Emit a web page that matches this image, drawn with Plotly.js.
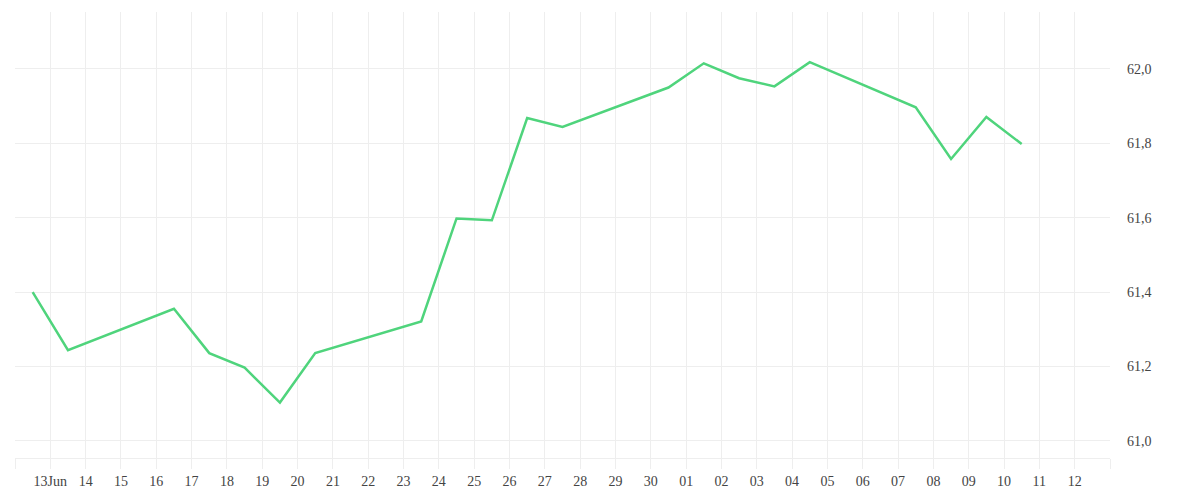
<!DOCTYPE html>
<html>
<head>
<meta charset="utf-8">
<script src="https://cdn.plot.ly/plotly-3.0.1.min.js"></script>
<style>
  html, body { margin: 0; padding: 0; background: #ffffff; }
  #chart { width: 1200px; height: 500px; }
</style>
</head>
<body>
<div id="chart"></div>
<script>
// Data
const dates = [
  '2025-06-12 12:00', '2025-06-13 12:00', '2025-06-16 12:00', '2025-06-17 12:00',
  '2025-06-18 12:00', '2025-06-19 12:00', '2025-06-20 12:00', '2025-06-23 12:00',
  '2025-06-24 12:00', '2025-06-25 12:00', '2025-06-26 12:00', '2025-06-27 12:00',
  '2025-06-30 12:00', '2025-07-01 12:00', '2025-07-02 12:00', '2025-07-03 12:00',
  '2025-07-04 12:00', '2025-07-07 12:00', '2025-07-08 12:00', '2025-07-09 12:00',
  '2025-07-10 12:00'
];
const values = [
  61.400, 61.244, 61.355, 61.236,
  61.197, 61.103, 61.236, 61.321,
  61.598, 61.593, 61.868, 61.844,
  61.950, 62.015, 61.975, 61.953,
  62.018, 61.897, 61.758, 61.871,
  61.798
];
const tickDates = [
  '2025-06-12', '2025-06-13', '2025-06-14', '2025-06-15', '2025-06-16', '2025-06-17',
  '2025-06-18', '2025-06-19', '2025-06-20', '2025-06-21', '2025-06-22', '2025-06-23',
  '2025-06-24', '2025-06-25', '2025-06-26', '2025-06-27', '2025-06-28', '2025-06-29',
  '2025-06-30', '2025-07-01', '2025-07-02', '2025-07-03', '2025-07-04', '2025-07-05',
  '2025-07-06', '2025-07-07', '2025-07-08', '2025-07-09', '2025-07-10', '2025-07-11',
  '2025-07-12', '2025-07-13'
];
const tickLabels = [
  '', '13Jun', '14', '15', '16', '17',
  '18', '19', '20', '21', '22', '23',
  '24', '25', '26', '27', '28', '29',
  '30', '01', '02', '03', '04', '05',
  '06', '07', '08', '09', '10', '11',
  '12', ''
];
const yTicks = [61.0, 61.2, 61.4, 61.6, 61.8, 62.0];

const gridColor = '#eeeeee';
const font = { family: '"Liberation Serif", serif', size: 14, color: '#444444' };

const trace = {
  x: dates,
  y: values,
  type: 'scatter',
  mode: 'lines',
  line: { color: '#4fd47c', width: 2.5 },
  hoverinfo: 'skip'
};

const layout = {
  width: 1200,
  height: 500,
  margin: { l: 15, r: 90, t: 12, b: 42 },
  paper_bgcolor: '#ffffff',
  plot_bgcolor: '#ffffff',
  separators: ',.',
  font: font,
  showlegend: false,
  xaxis: {
    type: 'date',
    range: ['2025-06-12', '2025-07-13'],
    tickmode: 'array',
    tickvals: tickDates,
    ticktext: tickLabels,
    showgrid: true,
    gridcolor: gridColor,
    gridwidth: 1,
    ticks: 'outside',
    ticklen: 10,
    tickcolor: gridColor,
    tickwidth: 1,
    showline: true,
    linecolor: gridColor,
    linewidth: 1,
    zeroline: false,
    tickfont: font,
    fixedrange: true
  },
  yaxis: {
    side: 'right',
    range: [60.954, 62.153],
    tickmode: 'array',
    tickvals: yTicks,
    tickformat: '.1f',
    showgrid: true,
    gridcolor: gridColor,
    gridwidth: 1,
    ticks: '',
    ticklabelstandoff: 16,
    showline: false,
    zeroline: false,
    tickfont: font,
    fixedrange: true
  }
};

Plotly.newPlot('chart', [trace], layout, { displayModeBar: false, staticPlot: true });
</script>
</body>
</html>
